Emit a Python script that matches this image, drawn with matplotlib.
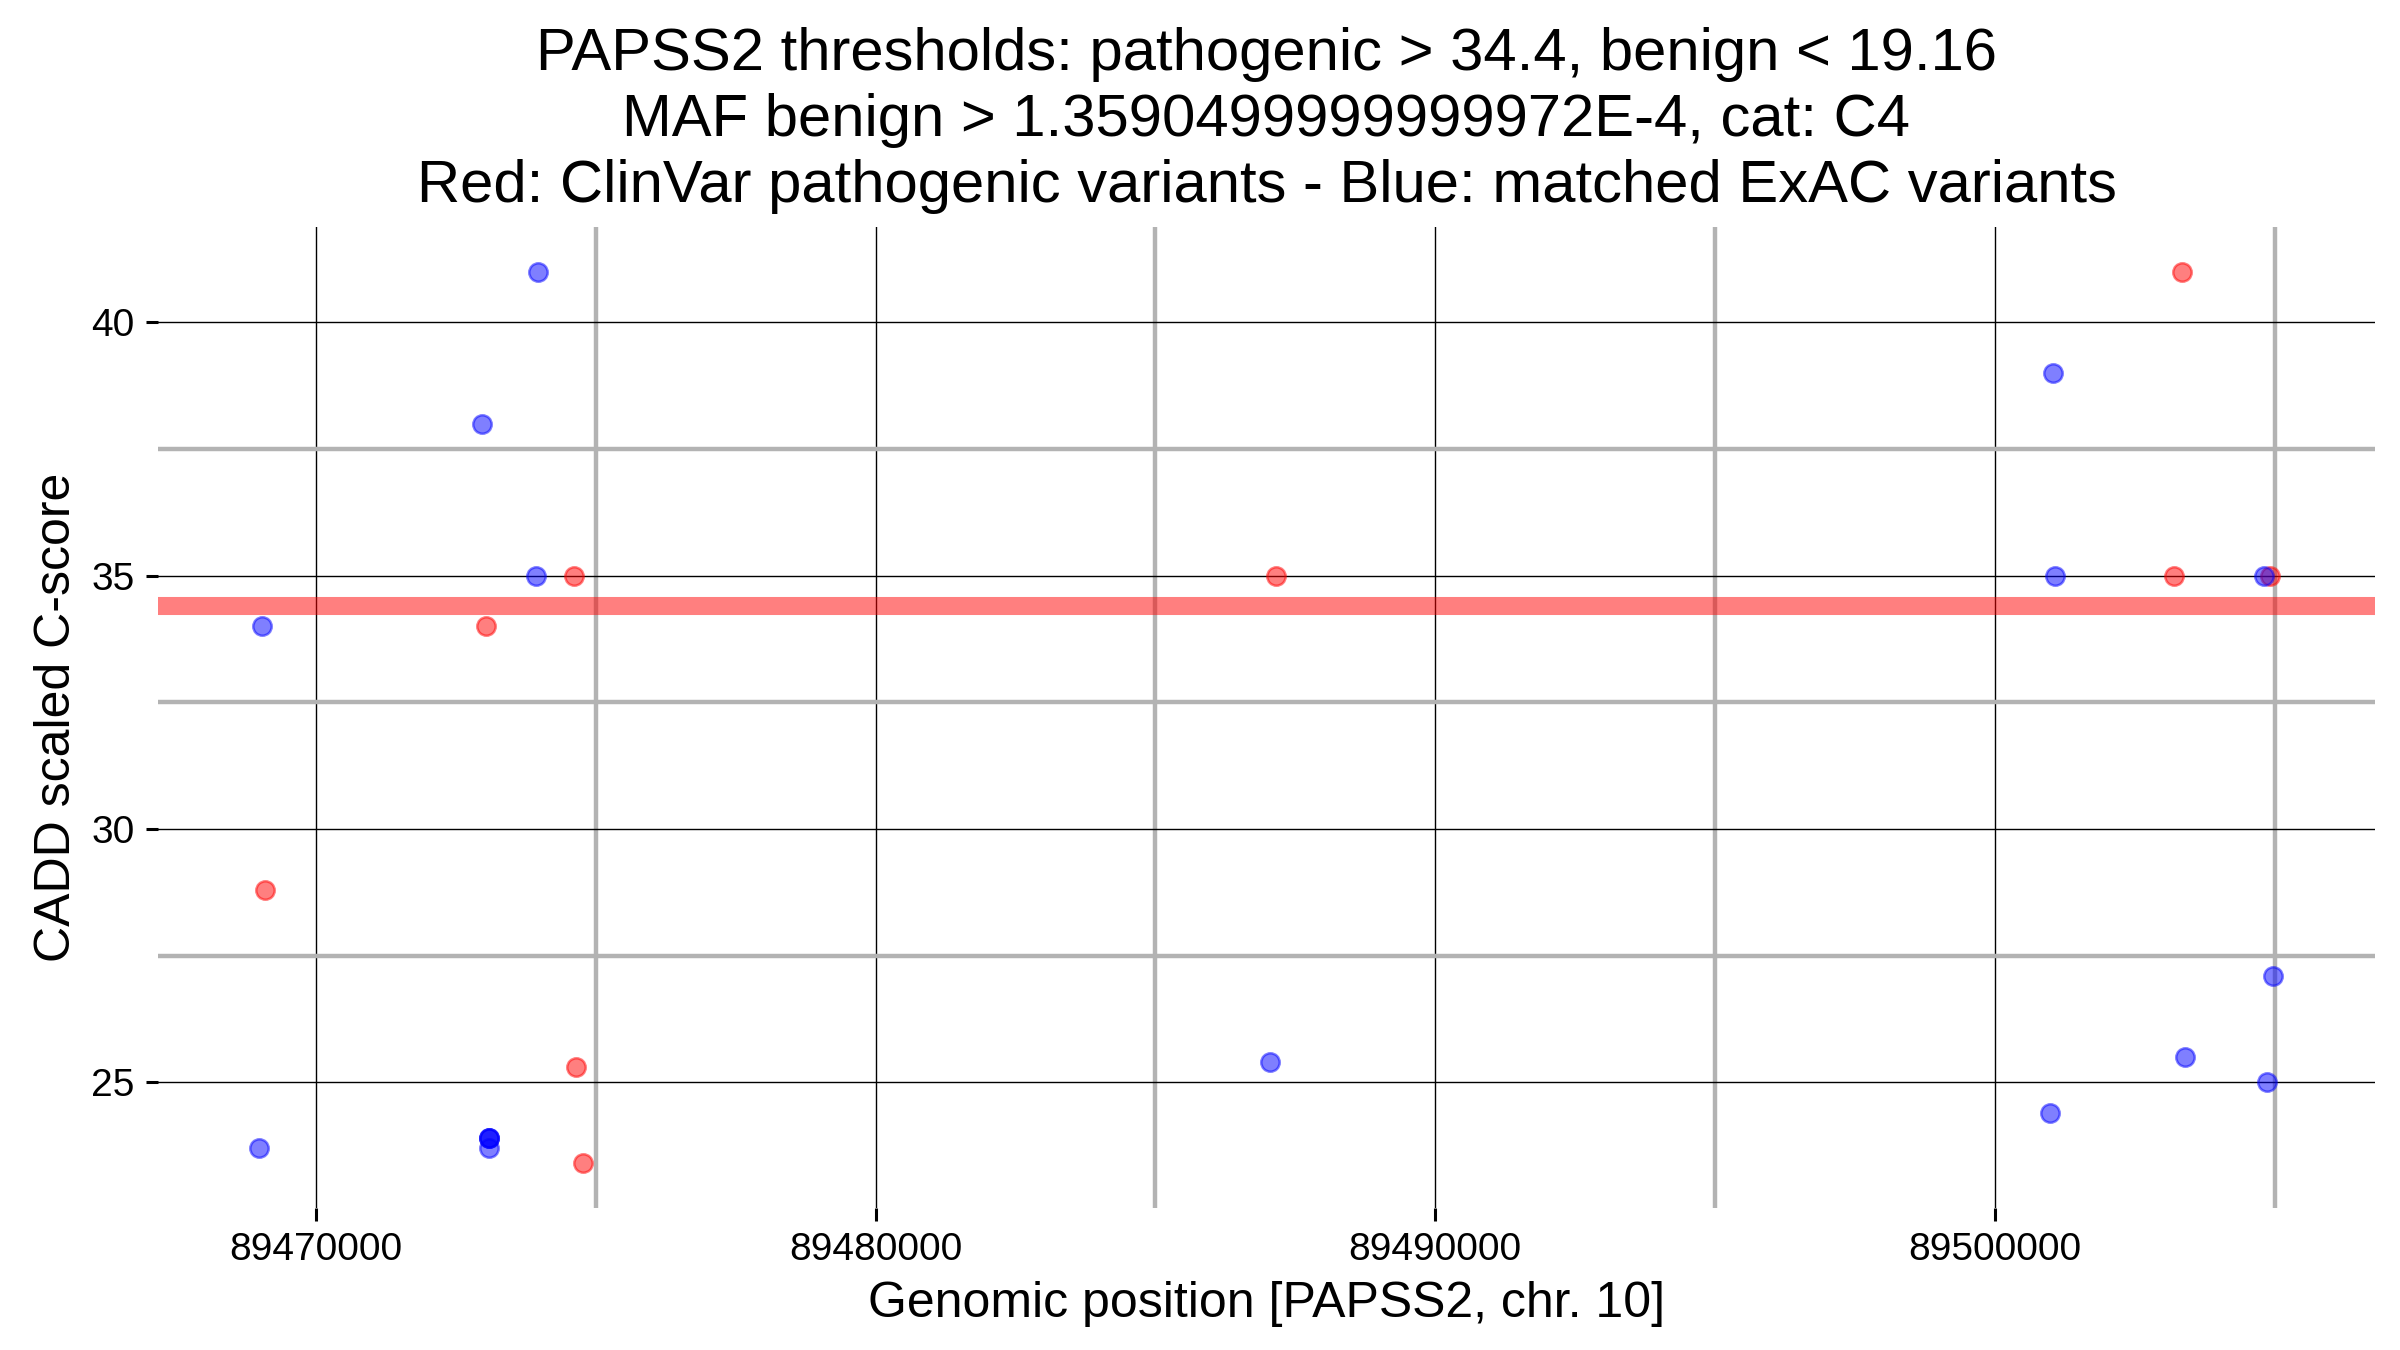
import matplotlib
matplotlib.use('Agg')
import matplotlib.pyplot as plt
from matplotlib.ticker import MultipleLocator

plt.rcParams['font.family'] = ['Liberation Sans', 'DejaVu Sans']

# ClinVar pathogenic variants (red)
red_pos = [89469098, 89473033, 89474617, 89474645, 89474781, 89487158,
           89503197, 89503333, 89504918]
red_score = [28.8, 34.0, 35.0, 25.3, 23.4, 35.0, 35.0, 41.0, 35.0]

# matched ExAC variants (blue)
blue_pos = [89468989, 89469044, 89472978, 89473087, 89473087, 89473087,
            89473087, 89473934, 89473962, 89487049, 89500984, 89501038,
            89501066, 89503388, 89504809, 89504863, 89504973]
blue_score = [23.7, 34.0, 38.0, 23.9, 23.9, 23.9, 23.7, 35.0, 41.0, 25.4,
              24.4, 39.0, 35.0, 25.5, 35.0, 25.0, 27.1]

pathogenic_thr = 34.4

fig = plt.figure(figsize=(12, 6.75), dpi=200)
ax = fig.add_axes([0.0658, 0.1052, 0.9238, 0.7267])

ax.axhline(pathogenic_thr, color='red', alpha=0.5, lw=6.5, zorder=3)
ax.scatter(red_pos, red_score, s=44, color='red', alpha=0.5,
           edgecolors='red', linewidths=0.9, zorder=4)
ax.scatter(blue_pos, blue_score, s=44, color='blue', alpha=0.5,
           edgecolors='blue', linewidths=0.9, zorder=4)

ax.set_xlim(89467180, 89506790)
ax.set_ylim(22.52, 41.88)
ax.xaxis.set_major_locator(MultipleLocator(10000))
ax.xaxis.set_minor_locator(MultipleLocator(5000))
ax.yaxis.set_major_locator(MultipleLocator(5))
ax.yaxis.set_minor_locator(MultipleLocator(2.5))
ax.ticklabel_format(axis='x', style='plain', useOffset=False)

ax.grid(which='minor', color='#b3b3b3', lw=1.6, zorder=1)
ax.grid(which='major', color='black', lw=0.5, zorder=2)
ax.set_axisbelow(True)
for sp in ax.spines.values():
    sp.set_visible(False)
ax.tick_params(which='major', length=4.5, width=1.1, labelsize=14, colors='black', pad=4)
ax.tick_params(which='minor', length=0)

ax.set_xlabel('Genomic position [PAPSS2, chr. 10]', fontsize=18, labelpad=5)
ax.set_ylabel('CADD scaled C-score', fontsize=18, labelpad=4)
ax.set_title('PAPSS2 thresholds: pathogenic > 34.4, benign < 19.16\n'
             'MAF benign > 1.3590499999999972E-4, cat: C4\n'
             'Red: ClinVar pathogenic variants - Blue: matched ExAC variants',
             fontsize=21.5, linespacing=1.25, pad=9)

fig.savefig('out.png', dpi=200)
